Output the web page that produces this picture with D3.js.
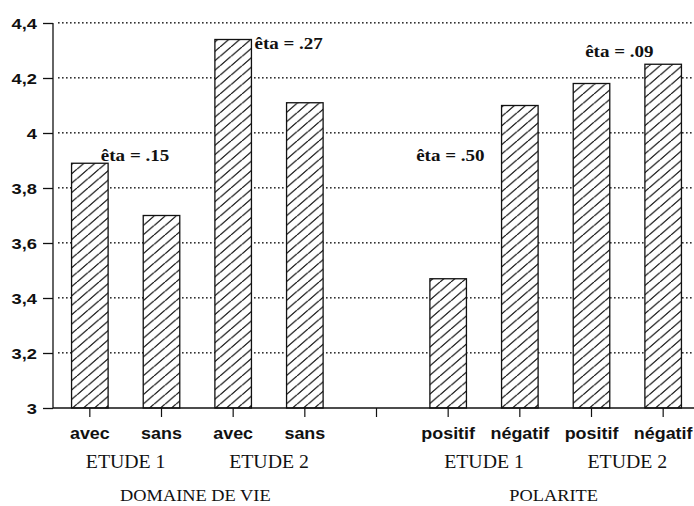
<!DOCTYPE html>
<html>
<head>
<meta charset="utf-8">
<script src="https://cdn.jsdelivr.net/npm/d3@7"></script>
<style>
  html, body { margin: 0; padding: 0; background: #fff; }
  svg { display: block; }
</style>
</head>
<body>
<svg id="chart" width="694" height="506"></svg>
<script>
// Mean scores per condition; the empty slot separates the two panels.
const categories = ["avec", "sans", "avec", "sans", "", "positif", "négatif", "positif", "négatif"];
const means = [3.89, 3.70, 4.34, 4.11, null, 3.47, 4.10, 4.18, 4.25];
const yTicks = [3, 3.2, 3.4, 3.6, 3.8, 4, 4.2, 4.4];
const studyLabels = ["ETUDE 1", "ETUDE 2", "ETUDE 1", "ETUDE 2"];
const studySlots = [[0, 1], [2, 3], [5, 6], [7, 8]];
const factorLabels = ["DOMAINE DE VIE", "POLARITE"];
const factorSlots = [[0, 3], [5, 8]];
const etaLabels = ["êta = .15", "êta = .27", "êta = .50", "êta = .09"];
const etaSlots = [0, 2, 5, 8];

const svg = d3.select("#chart");
const W = 694, H = 506;

const x = d3.scaleBand()
  .domain(d3.range(categories.length))
  .range([54, 699])
  .paddingInner(0.49)
  .paddingOuter(0.245);
const y = d3.scaleLinear().domain([3, 4.4]).range([408, 23]);
const cx = i => x(i) + x.bandwidth() / 2;

// Diagonal hatch fill for the bars
const defs = svg.append("defs");
const pat = defs.append("pattern")
  .attr("id", "hatch")
  .attr("patternUnits", "userSpaceOnUse")
  .attr("width", 11).attr("height", 9.4);
pat.append("path")
  .attr("d", "M-11,9.4 L0,0 M0,9.4 L11,0 M11,9.4 L22,0")
  .attr("stroke", "#111").attr("stroke-width", 1.25).attr("fill", "none");

// Dotted horizontal gridlines: one row of small square dots per tick value
const dotXs = d3.range(58, W - 2, 4);
const gGrid = svg.append("g").attr("class", "grid");
gGrid.selectAll("g")
  .data(yTicks.filter(d => d > 3))
  .join("g")
  .attr("transform", d => `translate(0,${Math.round(y(d)) - 1})`)
  .selectAll("rect")
  .data(dotXs)
  .join("rect")
  .attr("x", d => d)
  .attr("y", 0)
  .attr("width", 1.6)
  .attr("height", 1.6)
  .attr("fill", "#333");

// Y axis
const yAxis = d3.axisLeft(y)
  .tickValues(yTicks)
  .tickSize(10)
  .tickFormat(d => d3.format("~g")(d).replace(".", ","));
const gy = svg.append("g").attr("transform", "translate(53,0)").call(yAxis);
gy.select(".domain").attr("stroke", "#111").attr("stroke-width", 1.3).attr("d", `M0,${y(4.4)}V${y(3)}`);
gy.selectAll(".tick line").attr("stroke", "#111").attr("stroke-width", 1.3);
gy.selectAll(".tick text")
  .attr("x", null).attr("dy", null)
  .attr("text-anchor", "end")
  .attr("font-family", "Liberation Sans, Arial, sans-serif")
  .attr("font-weight", "bold").attr("font-size", 15).attr("fill", "#111")
  .attr("transform", "translate(-16,5) scale(1.22,1)");

// Bars: a white base to hide the gridlines, then the hatched outline
const barData = means.map((v, i) => ({ v, i })).filter(d => d.v !== null);
svg.append("g").selectAll("rect")
  .data(barData)
  .join("rect")
  .attr("x", d => x(d.i))
  .attr("width", x.bandwidth())
  .attr("y", d => y(d.v))
  .attr("height", d => y(3) - y(d.v))
  .attr("fill", "#fff");
svg.append("g").selectAll("rect")
  .data(barData)
  .join("rect")
  .attr("x", d => x(d.i))
  .attr("width", x.bandwidth())
  .attr("y", d => y(d.v))
  .attr("height", d => y(3) - y(d.v))
  .attr("fill", "url(#hatch)")
  .attr("stroke", "#111").attr("stroke-width", 1.3);

// X axis with ticks at every slot
const xAxis = d3.axisBottom(x).tickSize(9).tickFormat("");
const gx = svg.append("g").attr("transform", "translate(0,408)").call(xAxis);
gx.select(".domain").attr("stroke", "#111").attr("stroke-width", 1.4).attr("d", `M53,0H${W}`);
gx.selectAll(".tick line").attr("stroke", "#111").attr("stroke-width", 1.2);

// Helper for horizontally widened text
function label(txt, px, py, opts) {
  return svg.append("text")
    .attr("transform", `translate(${px},${py}) scale(${opts.sx},1)`)
    .attr("text-anchor", opts.anchor || "middle")
    .attr("font-family", opts.family)
    .attr("font-weight", opts.weight || "normal")
    .attr("font-size", opts.size)
    .attr("fill", "#111")
    .text(txt);
}

const sans = "Liberation Sans, Arial, sans-serif";
const serif = "Liberation Serif, Times New Roman, serif";

// Category labels
categories.forEach((c, i) => {
  if (c) label(c, cx(i), 439, { sx: 1.12, family: sans, weight: "bold", size: 16 });
});

// Study labels
studyLabels.forEach((s, k) => {
  const [a, b] = studySlots[k];
  label(s, (cx(a) + cx(b)) / 2, 468, { sx: 1.1, family: serif, size: 18 });
});

// Factor labels
factorLabels.forEach((f, k) => {
  const [a, b] = factorSlots[k];
  label(f, (cx(a) + cx(b)) / 2 - 2, 501, { sx: 1.08, family: serif, size: 17 });
});

// Effect sizes, placed relative to the bar they annotate
const etaOffsets = [[11, -2], [x.bandwidth() / 2 + 3, 9], [-32, -118], [-78, -7]];
etaLabels.forEach((t, k) => {
  const s = etaSlots[k];
  label(t, cx(s) + etaOffsets[k][0], y(means[s]) + etaOffsets[k][1],
    { sx: 1.12, family: serif, weight: "bold", size: 17, anchor: "start" });
});
</script>
</body>
</html>
